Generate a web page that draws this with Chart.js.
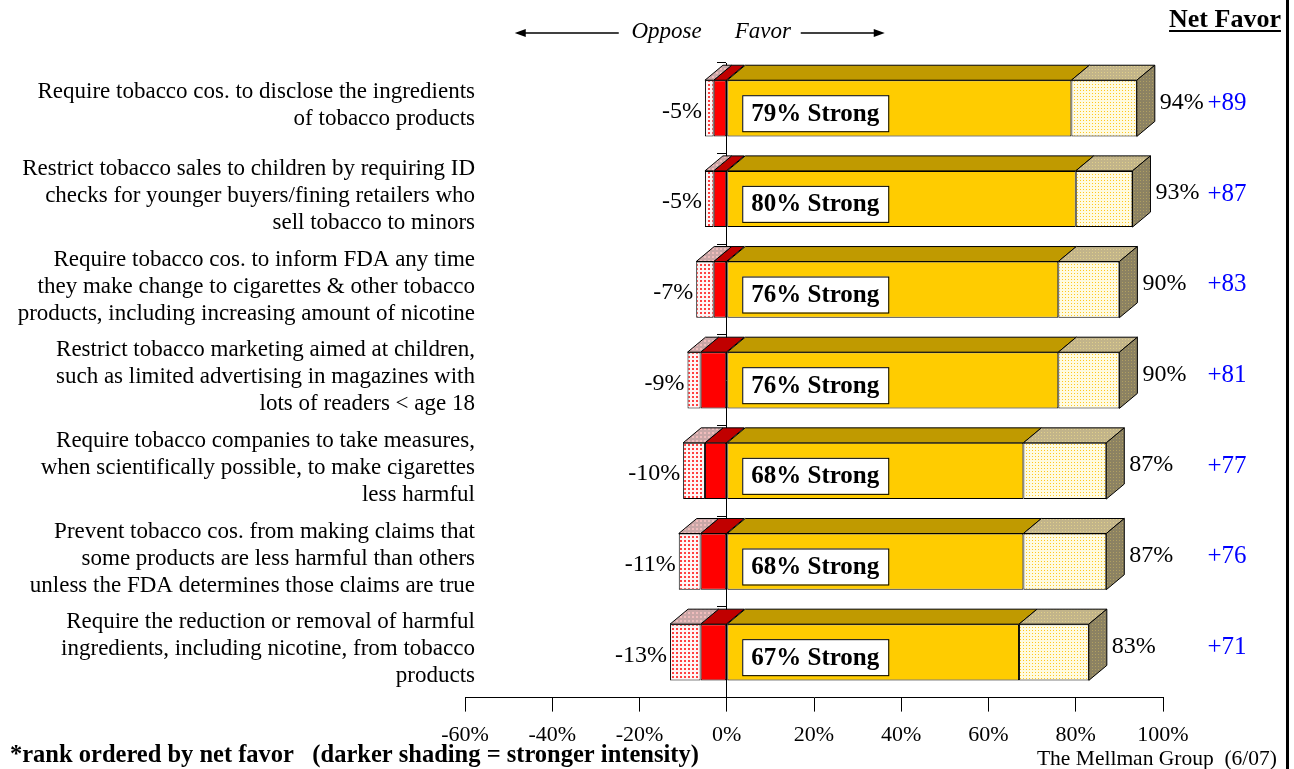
<!DOCTYPE html>
<html>
<head>
<meta charset="utf-8">
<script src="https://cdn.jsdelivr.net/npm/chart.js@4.4.0/dist/chart.umd.min.js"></script>
<style>
  body { margin: 0; background: #fff; }
  #wrap { width: 1294px; height: 769px; }
</style>
</head>
<body>
<div id="wrap"><canvas id="chart" width="1294" height="769"></canvas></div>
<script>
const categories = [
  ["Require tobacco cos. to disclose the ingredients", "of tobacco products"],
  ["Restrict tobacco sales to children by requiring ID", "checks for younger buyers/fining retailers who", "sell tobacco to minors"],
  ["Require tobacco cos. to inform FDA any time", "they make change to cigarettes & other tobacco", "products, including increasing amount of nicotine"],
  ["Restrict tobacco marketing aimed at children,", "such as limited advertising in magazines with", "lots of readers < age 18"],
  ["Require tobacco companies to take measures,", "when scientifically possible, to make cigarettes", "less harmful"],
  ["Prevent tobacco cos. from making claims that", "some products are less harmful than others", "unless the FDA determines those claims are true"],
  ["Require the reduction or removal of harmful", "ingredients, including nicotine, from tobacco", "products"]
];
const strongOppose = [-3, -3, -3, -6, -5, -6, -6];
const weakOppose = [-2, -2, -4, -3, -5, -5, -7];
const strongFavor = [79, 80, 76, 76, 68, 68, 67];
const weakFavor = [15, 13, 14, 14, 19, 19, 16];
const totalOppose = [-5, -5, -7, -9, -10, -11, -13];
const totalFavor = [94, 93, 90, 90, 87, 87, 83];
const netFavor = [89, 87, 83, 81, 77, 76, 71];
const xTicks = [-60, -40, -20, 0, 20, 40, 60, 80, 100];

const SERIF = '"Liberation Serif", "Times New Roman", serif';
const DX = 18, DY = 15; // 3d depth of the bars

const canvas = document.getElementById("chart");
const ctx = canvas.getContext("2d");

// small dotted fills like the old office shading
function dots(bg, dot, step, size) {
  const c = document.createElement("canvas");
  c.width = step; c.height = step;
  const g = c.getContext("2d");
  g.fillStyle = bg;
  g.fillRect(0, 0, step, step);
  g.fillStyle = dot;
  g.fillRect(0, 0, size, size);
  return ctx.createPattern(c, "repeat");
}

function poly(pts) {
  ctx.beginPath();
  ctx.moveTo(pts[0][0], pts[0][1]);
  for (let i = 1; i < pts.length; i++) ctx.lineTo(pts[i][0], pts[i][1]);
  ctx.closePath();
  ctx.fill();
  ctx.stroke();
}

// top + side faces, drawn before the front faces
const depthPlugin = {
  id: "depth",
  beforeDatasetsDraw(chart) {
    const c = chart.ctx;
    c.save();
    c.lineWidth = 1;
    c.strokeStyle = "#000";
    chart.data.datasets.forEach((ds, i) => {
      chart.getDatasetMeta(i).data.forEach(bar => {
        const p = bar.getProps(["x", "y", "base", "height"], true);
        const l = Math.min(p.x, p.base), r = Math.max(p.x, p.base);
        const t = p.y - p.height / 2, b = p.y + p.height / 2;
        c.fillStyle = ds.topColor;
        poly([[l, t], [l + DX, t - DY], [r + DX, t - DY], [r, t]]);
        if (ds.sideColor) {
          c.fillStyle = ds.sideColor;
          poly([[r, t], [r + DX, t - DY], [r + DX, b - DY], [r, b]]);
        }
      });
    });
    c.restore();
  }
};

function arrow(x1, x2, y) {
  const dir = x2 > x1 ? 1 : -1;
  ctx.beginPath();
  ctx.moveTo(x1, y);
  ctx.lineTo(x2 - dir * 8, y);
  ctx.stroke();
  ctx.beginPath();
  ctx.moveTo(x2, y);
  ctx.lineTo(x2 - dir * 11, y - 4);
  ctx.lineTo(x2 - dir * 11, y + 4);
  ctx.closePath();
  ctx.fill();
}

const textPlugin = {
  id: "texts",
  afterDraw(chart) {
    const c = chart.ctx;
    const y = chart.scales.y;
    const x = chart.scales.x;
    const zero = x.getPixelForValue(0);
    c.save();
    c.fillStyle = "#000";
    c.strokeStyle = "#000";
    c.textBaseline = "middle";

    // category labels on the left
    c.font = "23px " + SERIF;
    c.textAlign = "right";
    categories.forEach((lines, i) => {
      const cy = y.getPixelForValue(i) - 3;
      const y0 = cy - (lines.length - 1) * 27 / 2;
      lines.forEach((s, k) => c.fillText(s, 475, y0 + k * 27));
    });

    const oppMeta = chart.getDatasetMeta(1);
    const strongMeta = chart.getDatasetMeta(2);
    const weakMeta = chart.getDatasetMeta(3);

    oppMeta.data.forEach((bar, i) => {
      const p = bar.getProps(["x", "y"], true);
      c.font = "24px " + SERIF;
      c.textAlign = "right";
      c.fillStyle = "#000";
      c.fillText(totalOppose[i] + "%", p.x - 3, p.y + 3);
    });

    weakMeta.data.forEach((bar, i) => {
      const p = bar.getProps(["x", "y"], true);
      c.font = "24px " + SERIF;
      c.textAlign = "left";
      c.fillStyle = "#000";
      c.fillText(totalFavor[i] + "%", p.x + 23, p.y - 6);
      c.font = "25px " + SERIF;
      c.textAlign = "center";
      c.fillStyle = "#0000ff";
      c.fillText("+" + netFavor[i], 1227, p.y - 5);
    });

    strongMeta.data.forEach((bar, i) => {
      const p = bar.getProps(["base", "y", "height"], true);
      const bx = p.base + 15, by = p.y - p.height / 2 + 15;
      c.fillStyle = "#fff";
      c.fillRect(bx, by, 146, 36);
      c.lineWidth = 1;
      c.strokeRect(bx + 0.5, by + 0.5, 146, 36);
      c.fillStyle = "#000";
      c.font = "bold 25px " + SERIF;
      c.textAlign = "center";
      c.fillText(strongFavor[i] + "% Strong", bx + 73, by + 19);
    });

    // header
    c.fillStyle = "#000";
    c.font = "italic 23px " + SERIF;
    c.textAlign = "right";
    c.fillText("Oppose", zero - 25, 32);
    c.textAlign = "left";
    c.fillText("Favor", zero + 8, 32);
    c.lineWidth = 1.5;
    arrow(zero - 108, zero - 212, 33);
    arrow(zero + 74, zero + 158, 33);

    c.font = "bold 26px " + SERIF;
    c.textAlign = "center";
    c.fillText("Net Favor", 1225, 20);
    const w = c.measureText("Net Favor").width;
    c.fillRect(1225 - w / 2, 30, w, 2);

    // footer
    c.textAlign = "left";
    c.font = "bold 24.5px " + SERIF;
    c.fillText("*rank ordered by net favor   (darker shading = stronger intensity)", 10, 756);
    c.textAlign = "right";
    c.font = "21.5px " + SERIF;
    c.fillText("The Mellman Group  (6/07)", 1277, 759);

    // frame line on the right
    c.fillRect(1286, 0, 3, 769);
    c.restore();
  }
};

new Chart(ctx, {
  type: "bar",
  data: {
    labels: categories,
    datasets: [
      {
        label: "Strong oppose", data: strongOppose,
        backgroundColor: "#ff0000", topColor: "#c00000"
      },
      {
        label: "Weak oppose", data: weakOppose,
        backgroundColor: dots("#fff4f4", "#ff4040", 4, 2),
        topColor: dots("#c9a7a7", "#f0bcbc", 4, 2)
      },
      {
        label: "Strong favor", data: strongFavor,
        backgroundColor: "#ffcc00", topColor: "#c09a00"
      },
      {
        label: "Weak favor", data: weakFavor,
        backgroundColor: dots("#fffbe0", "#ffc820", 3, 1),
        topColor: dots("#c2b48a", "#e0cf8a", 3, 1),
        sideColor: dots("#8c8262", "#b09f62", 3, 1)
      }
    ]
  },
  options: {
    indexAxis: "y",
    responsive: false,
    animation: false,
    devicePixelRatio: 1,
    layout: { padding: { left: 465, right: 131, top: 63, bottom: 11 } },
    datasets: {
      bar: {
        borderColor: "#000",
        borderWidth: 1,
        borderSkipped: false,
        categoryPercentage: 1,
        barPercentage: 0.62
      }
    },
    plugins: {
      legend: { display: false },
      tooltip: { enabled: false }
    },
    scales: {
      x: {
        stacked: true,
        min: -60,
        max: 100,
        afterBuildTicks: s => { s.ticks = xTicks.map(v => ({ value: v })); },
        grid: { drawOnChartArea: false, drawTicks: true, tickLength: 14, color: "#000" },
        border: { display: true, color: "#000", width: 1 },
        ticks: {
          padding: 10,
          color: "#000",
          font: { family: SERIF, size: 22 },
          callback: v => v + "%"
        }
      },
      y: {
        stacked: true,
        position: { x: 0 },
        grid: { drawOnChartArea: false, drawTicks: true, tickLength: 9, color: "#000", offset: true },
        border: { display: true, color: "#000", width: 1 },
        ticks: { display: false }
      }
    }
  },
  plugins: [depthPlugin, textPlugin]
});
</script>
</body>
</html>
